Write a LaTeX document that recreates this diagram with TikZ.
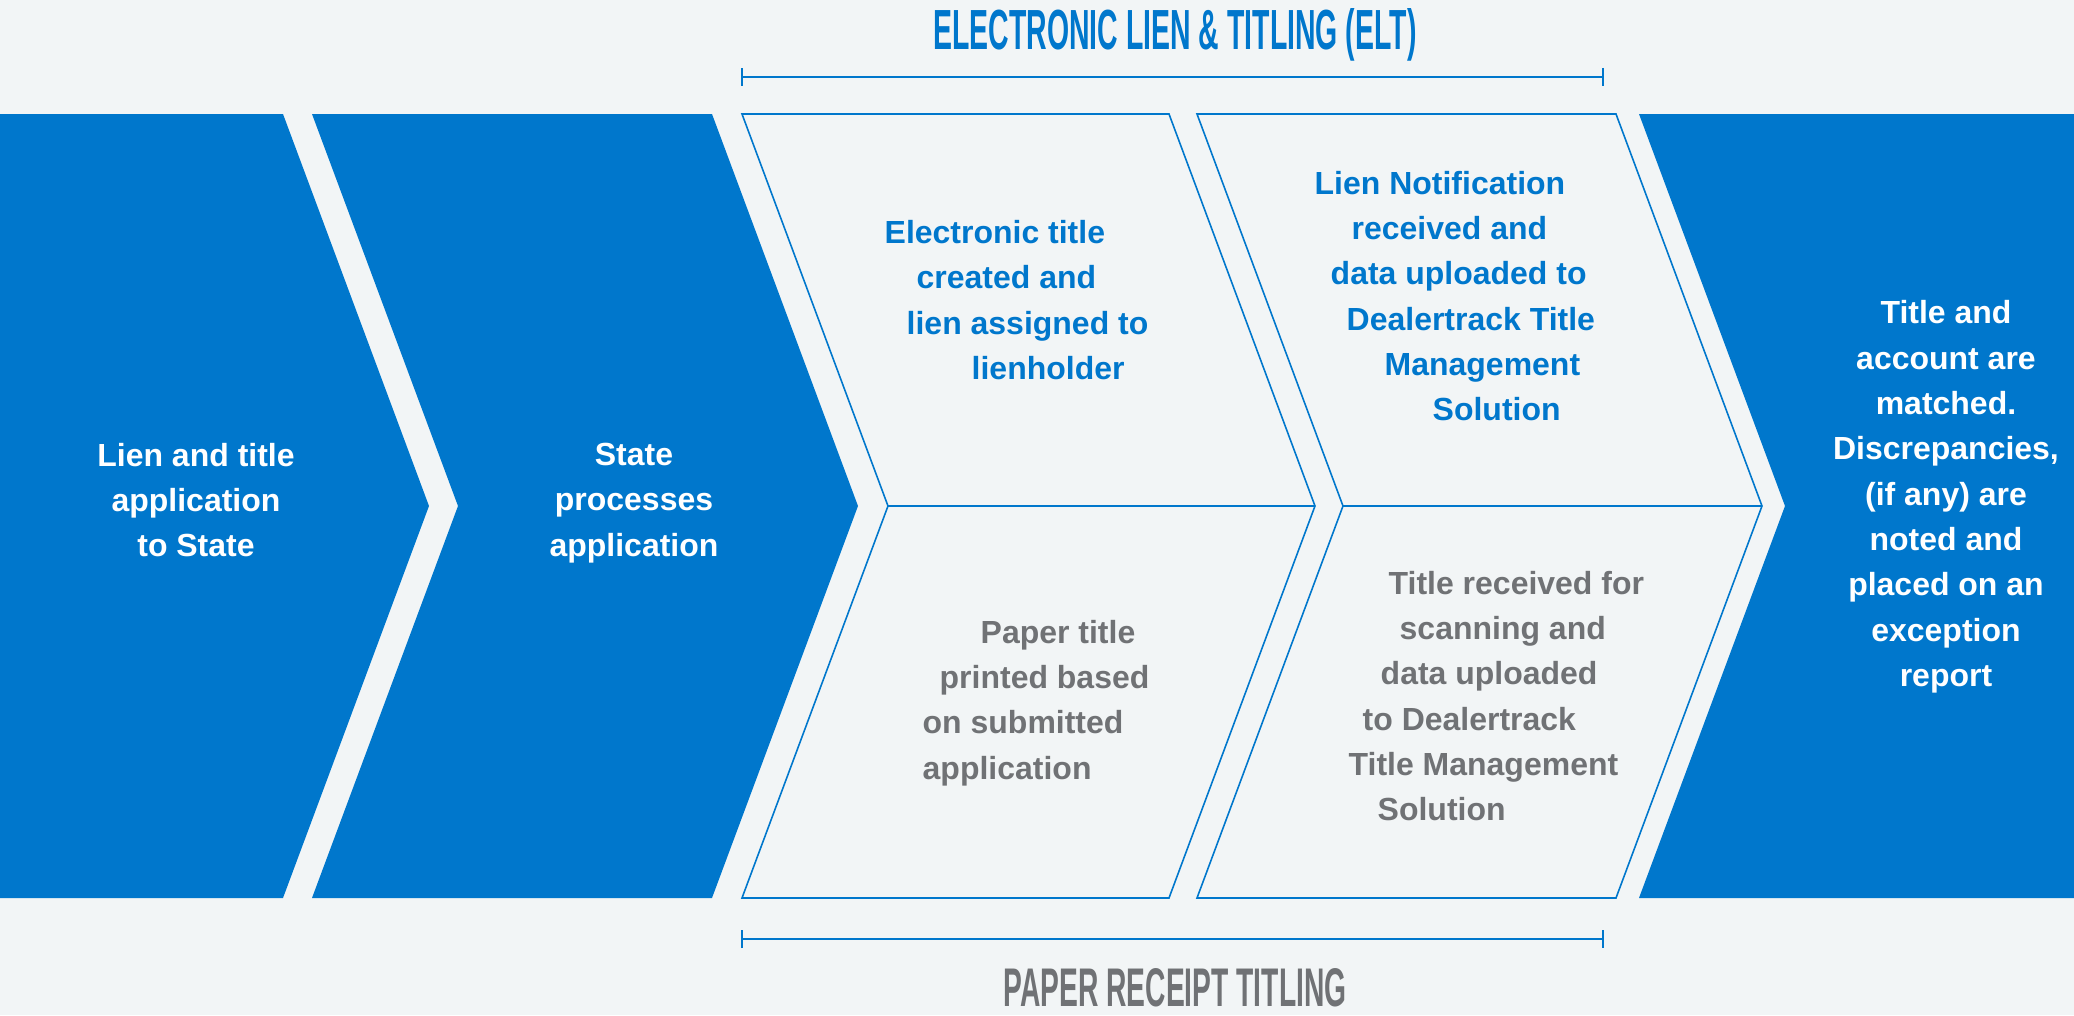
\documentclass[tikz,border=0pt]{standalone}
\usepackage{fontspec}
\setmainfont{Liberation Sans}
\usepackage{graphicx}
\usepackage{xcolor}
\usetikzlibrary{arrows.meta,positioning}

\definecolor{eltblue}{HTML}{0077CC}
\definecolor{pagebg}{HTML}{F2F5F6}
\definecolor{papergray}{HTML}{707275}

\begin{document}
\begin{tikzpicture}[
    chevron/.style={fill=eltblue},
    stagebox/.style={draw=eltblue, line width=0.45pt, fill=pagebg},
    bracket/.style={draw=eltblue, line width=0.6pt, {Bar[width=0.18cm]}-{Bar[width=0.18cm]}},
    steptext/.style={font=\fontsize{9.1}{12.9}\selectfont\bfseries, inner sep=0pt},
    whitetext/.style={steptext, text=white, align=center},
    elttext/.style={steptext, text=eltblue, align=left, anchor=west},
    papertext/.style={steptext, text=papergray, align=left, anchor=west},
    heading/.style={font=\bfseries, inner sep=0pt, anchor=base}
]

% Background
\fill[pagebg] (0,0) rectangle (20.74,10.15);
\useasboundingbox (0,0) rectangle (20.74,10.15);

% Blue chevrons
\fill[chevron] (0,9.01) -- (2.83,9.01) -- (4.29,5.09) -- (2.83,1.17) -- (0,1.17) -- cycle;
\fill[chevron] (3.12,9.01) -- (7.12,9.01) -- (8.58,5.09) -- (7.12,1.17) -- (3.12,1.17) -- (4.58,5.09) -- cycle;
\fill[chevron] (16.39,9.01) -- (20.74,9.01) -- (20.74,1.17) -- (16.39,1.17) -- (17.85,5.09) -- cycle;

% ELT / paper boxes
\foreach \l/\r in {7.42/11.69, 11.97/16.16} {
    \draw[stagebox] (\l,9.01) -- (\r,9.01) -- (\r+1.46,5.09) -- (\r,1.17) -- (\l,1.17) -- (\l+1.46,5.09) -- cycle;
    \draw[stagebox] (\l+1.46,5.09) -- (\r+1.46,5.09);
}

% Step texts
\node[whitetext] (apply) at (1.96,5.15) {Lien and title\\application\\to State};
\node[whitetext] (process) at (6.34,5.12) {State\\processes\\application};
\node[elttext] (elt-create) at (8.84,7.15) {Electronic title\\\hspace*{0.32cm}created and\\\hspace*{0.22cm}lien assigned to\\\hspace*{0.87cm}lienholder};
\node[elttext] (elt-notify) at (13.14,7.19) {Lien Notification\\\hspace*{0.37cm}received and\\\hspace*{0.16cm}data uploaded to\\\hspace*{0.32cm}Dealertrack Title\\\hspace*{0.70cm}Management\\\hspace*{1.18cm}Solution};
\node[papertext] (paper-print) at (9.22,3.12) {\hspace*{0.58cm}Paper title\\\hspace*{0.17cm}printed based\\on submitted\\application};
\node[papertext] (paper-scan) at (13.48,3.19) {\hspace*{0.40cm}Title received for\\\hspace*{0.51cm}scanning and\\\hspace*{0.32cm}data uploaded\\\hspace*{0.14cm}to Dealertrack\\Title Management\\\hspace*{0.29cm}Solution};
\node[whitetext] (match) at (19.46,5.18) {Title and\\account are\\matched.\\Discrepancies,\\(if any) are\\noted and\\placed on an\\exception\\report};

% Headings and brackets
\node[heading, text=eltblue] (elt-title) at (11.75,9.65) {\resizebox{4.83cm}{0.41cm}{ELECTRONIC LIEN \& TITLING (ELT)}};
\node[heading, text=papergray] (paper-title) at (11.75,0.09) {\resizebox{3.43cm}{0.38cm}{PAPER RECEIPT TITLING}};
\coordinate (elt-left) at (7.41,9.38);
\coordinate (elt-right) at (16.04,9.38);
\coordinate (paper-left) at (7.41,0.76);
\coordinate (paper-right) at (16.04,0.76);
\draw[bracket] (elt-left) -- (elt-right);
\draw[bracket] (paper-left) -- (paper-right);

\end{tikzpicture}
\end{document}
